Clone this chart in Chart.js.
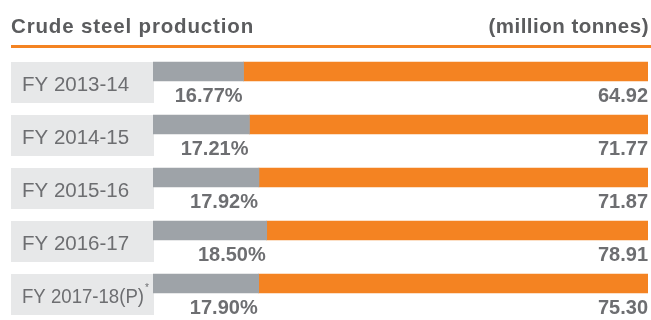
<!DOCTYPE html>
<html>
<head>
<meta charset="utf-8">
<script src="https://cdn.jsdelivr.net/npm/chart.js@4/dist/chart.umd.min.js"></script>
<style>
  html, body { margin: 0; padding: 0; background: #ffffff; }
  #wrap { position: relative; width: 651px; height: 320px; overflow: hidden; }
  #chart { position: absolute; left: 0; top: 0; }
  .hdr { position: absolute; top: 16px; font-family: "Liberation Sans", Arial, sans-serif; font-weight: bold;
         font-size: 20.5px; line-height: 20px; color: #5b5c5e; letter-spacing: 0.85px; white-space: nowrap; }
  #t1 { left: 11px; }
  #t2 { right: 2px; letter-spacing: 0.5px; }
  #rule { position: absolute; left: 11px; right: 0; top: 45px; height: 3px; background: #f48322; }
</style>
</head>
<body>
<div id="wrap">
  <canvas id="chart" width="651" height="320"></canvas>
  <div class="hdr" id="t1">Crude steel production</div>
  <div class="hdr" id="t2">(million tonnes)</div>
  <div id="rule"></div>
</div>
<script>
// ---- data ----
const years = ["FY 2013-14", "FY 2014-15", "FY 2015-16", "FY 2016-17", "FY 2017-18(P)"];
const yearNotes = ["", "", "", "", "*"];
const sharePct = [16.77, 17.21, 17.92, 18.50, 17.90];
const production = [64.92, 71.77, 71.87, 78.91, 75.30];
const shareLabels = ["16.77%", "17.21%", "17.92%", "18.50%", "17.90%"];
const productionLabels = ["64.92", "71.77", "71.87", "78.91", "75.30"];

// axis range of the bar track (share scale)
const AXIS_MIN = 10;
const AXIS_MAX = 47;

const GRAY_BAR = "#9ea3a8";
const ORANGE = "#f48322";
const BOX = "#e7e8e9";
const TEXT = "#6d6e71";
const BAR_H = 19;

const rowPlugin = {
  id: "rowDecor",
  beforeDatasetsDraw(chart) {
    const ctx = chart.ctx;
    const y = chart.scales.y;
    const left = chart.chartArea.left;
    ctx.save();
    years.forEach((lab, i) => {
      const cy = y.getPixelForValue(i);
      const top = cy - BAR_H / 2;
      ctx.fillStyle = BOX;
      ctx.fillRect(11, top, left + 1 - 11, 41);
      ctx.fillStyle = TEXT;
      ctx.font = '20.5px "Liberation Sans", Arial, sans-serif';
      ctx.textAlign = "left";
      ctx.textBaseline = "alphabetic";
      const maxW = 122;
      ctx.fillText(lab, 22, top + 28.5, maxW);
      if (yearNotes[i]) {
        const w = Math.min(ctx.measureText(lab).width, maxW);
        ctx.font = '10px "Liberation Sans", Arial, sans-serif';
        ctx.fillText(yearNotes[i], 22 + w + 1, top + 17);
      }
    });
    ctx.restore();
  },
  afterDatasetsDraw(chart) {
    const ctx = chart.ctx;
    const y = chart.scales.y;
    const x = chart.scales.x;
    ctx.save();
    ctx.fillStyle = TEXT;
    ctx.font = 'bold 20px "Liberation Sans", Arial, sans-serif';
    ctx.textBaseline = "alphabetic";
    ctx.textAlign = "right";
    years.forEach((lab, i) => {
      const cy = y.getPixelForValue(i);
      const top = cy - BAR_H / 2;
      ctx.fillText(shareLabels[i], x.getPixelForValue(sharePct[i]) - 1, top + 40);
      ctx.fillText(productionLabels[i], chart.chartArea.right, top + 40);
    });
    ctx.restore();
  }
};

new Chart(document.getElementById("chart"), {
  type: "bar",
  data: {
    labels: years,
    datasets: [
      {
        label: "Share",
        data: sharePct.map(v => [AXIS_MIN, v]),
        backgroundColor: GRAY_BAR,
        grouped: false,
        barThickness: BAR_H,
        order: 1
      },
      {
        label: "Production",
        data: sharePct.map(v => [v, AXIS_MAX]),
        backgroundColor: ORANGE,
        grouped: false,
        barThickness: BAR_H,
        order: 2
      }
    ]
  },
  options: {
    indexAxis: "y",
    responsive: false,
    animation: false,
    layout: { padding: { left: 153, right: 3, top: 45, bottom: 10 } },
    plugins: { legend: { display: false }, tooltip: { enabled: false }, title: { display: false } },
    scales: {
      x: { display: false, min: AXIS_MIN, max: AXIS_MAX },
      y: { display: false, offset: true }
    }
  },
  plugins: [rowPlugin]
});
</script>
</body>
</html>
